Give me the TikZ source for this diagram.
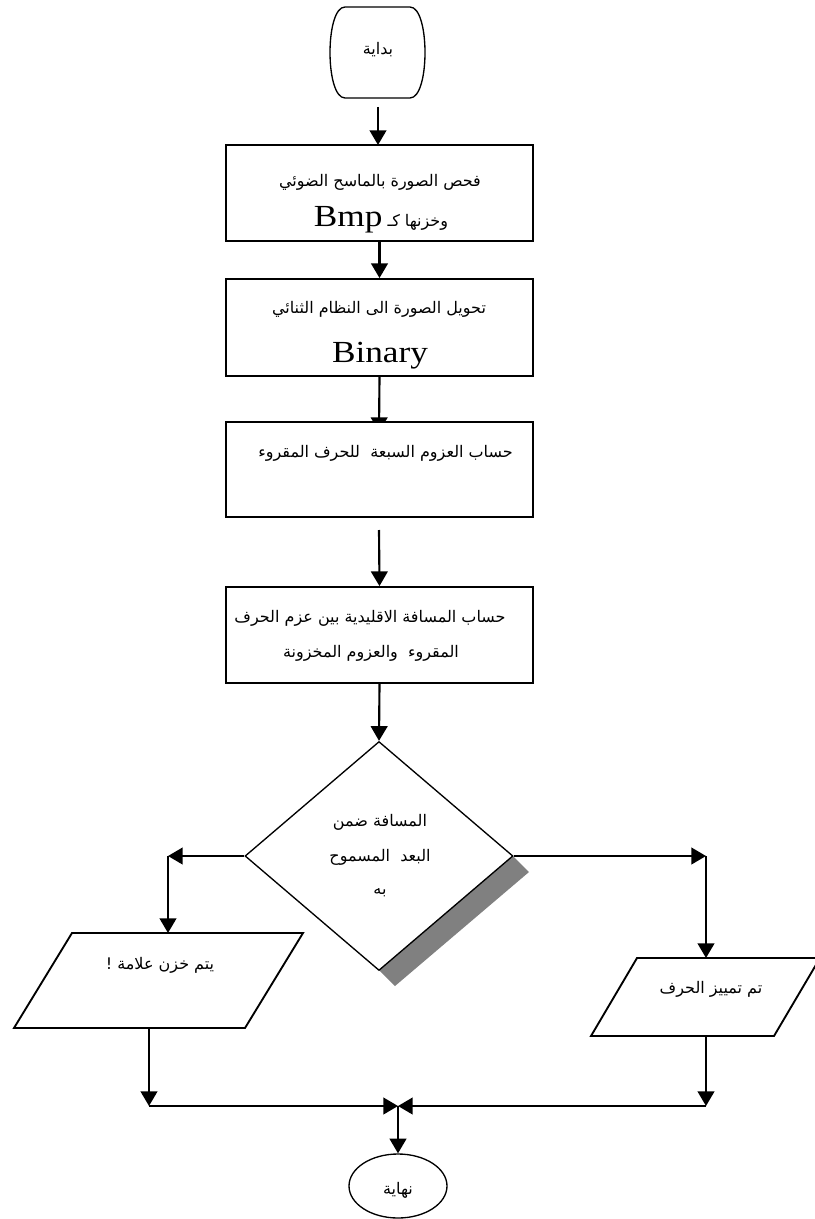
\documentclass[tikz,border=0pt]{standalone}
\usepackage{fontspec}
\setmainfont{Liberation Serif}
\newfontfamily\arabicfont[Script=Arabic]{DejaVu Sans}
\newfontfamily\bigserif[FakeStretch=1.15]{Liberation Serif}
\TeXXeTstate=1
\usetikzlibrary{arrows.meta,shapes.geometric}
\newcommand\artxt[1]{\beginR #1\endR}
\begin{document}
\begin{tikzpicture}[x=0.75pt,y=-0.75pt,
  box/.style={draw, line width=1.4pt, minimum width=230.25pt, minimum height=72pt, inner sep=0pt},
  arr/.style={line width=1.6pt, -{Triangle[length=11pt,width=12.5pt]}},
  txt/.style={inner sep=0pt, font=\arabicfont\fontsize{12}{14}\selectfont},
  big/.style={inner sep=0pt, font=\bigserif\fontsize{23}{26}\selectfont}]
\useasboundingbox[fill=white] (0,0) rectangle (814,1219);
% start
\node[inner sep=0pt, minimum width=71.25pt, minimum height=68.25pt] (start) at (377.5,52.5) {};
\draw[line width=1pt] (345,7) -- (410,7) .. controls (430,7) and (430,98) .. (410,98)
  -- (345,98) .. controls (325,98) and (325,7) .. (345,7) -- cycle;
\node[txt] (starttxt) at (378,50) {\artxt{بداية}};
% box 1
\node[box] (b1) at (379.5,193) {};
\node[txt] (b1a) at (380,182) {\artxt{فحص الصورة بالماسح الضوئي}};
\node[txt, anchor=base] (b1b) at (381,227) {\artxt{وخزنها كـ \beginL{\bigserif\fontsize{23}{26}\selectfont Bmp}\endL}};
% box 2
\node[box, minimum height=72.75pt] (b2) at (379.5,327.5) {};
\node[txt] (b2a) at (379,309) {\artxt{تحويل الصورة الى النظام الثنائي}};
\node[big, anchor=base] (b2b) at (380,362) {Binary};
% box 3 (arrow drawn first, partly hidden)
\coordinate (b3in) at (379,432);
\draw[arr] (b2.south) -- (b3in);
\node[box, fill=white, minimum height=71.25pt] (b3) at (379.5,469.5) {};
\node[txt, anchor=east] (b3a) at (513,453) {\artxt{حساب العزوم السبعة\ \ للحرف المقروء}};
% box 4
\node[box] (b4) at (379.5,635) {};
\node[txt] (b4a) at (370,618) {\artxt{حساب المسافة الاقليدية بين عزم الحرف}};
\node[txt] (b4b) at (371,653) {\artxt{المقروء\ \ والعزوم المخزونة}};
% decision
\fill[black!50] (513,856) -- (529,872) -- (395,986) -- (379,970) -- cycle;
\node[diamond, draw, fill=white, line width=1pt, minimum width=201pt, minimum height=171.75pt, inner sep=0pt] (dec) at (379,856) {};
\node[txt] (d1) at (380,822) {\artxt{المسافة ضمن}};
\node[txt] (d2) at (380,857) {\artxt{البعد\ \ المسموح}};
\node[txt] (d3) at (380,893) {\artxt{به}};
% left parallelogram
\draw[line width=1.4pt] (72,933) -- (303,933) -- (245,1028) -- (14,1028) -- cycle;
\node[txt] (store) at (160,965) {\artxt{يتم خزن علامة !}};
\coordinate (storetop) at (168,933);
\coordinate (storebot) at (149,1028);
% right parallelogram
\draw[line width=1.4pt] (637,958) -- (820,958) -- (774,1036) -- (591,1036) -- cycle;
\node[txt] (recog) at (711,989) {\artxt{تم تمييز الحرف}};
\coordinate (recogtop) at (706,958);
\coordinate (recogbot) at (706,1036);
% end
\node[ellipse, draw, line width=1pt, minimum width=73.5pt, minimum height=48pt, inner sep=0pt] (endn) at (398,1186) {};
\node[txt] (endtxt) at (398,1190) {\artxt{نهاية}};
% connectors
\coordinate (a0) at (378,107);
\draw[arr] (a0) -- (378,145);
\draw[arr] (b1.south) -- (b2.north);
\coordinate (a3) at (379,530);
\draw[arr] (a3) -- (b4.north);
\draw[arr] (b4.south) -- (dec.north);
\coordinate (lcorner) at (168,856);
\coordinate (rcorner) at (706,856);
\draw[arr] (dec.west) -- (lcorner);
\draw[arr] (lcorner) -- (storetop);
\draw[arr] (dec.east) -- (rcorner);
\draw[arr] (rcorner) -- (recogtop);
\coordinate (lmerge) at (149,1106);
\coordinate (rmerge) at (706,1106);
\coordinate (merge) at (398,1106);
\draw[arr] (storebot) -- (lmerge);
\draw[arr] (recogbot) -- (rmerge);
\draw[arr] (lmerge) -- (merge);
\draw[arr] (rmerge) -- (merge);
\draw[arr] (merge) -- (endn.north);
\end{tikzpicture}
\end{document}
